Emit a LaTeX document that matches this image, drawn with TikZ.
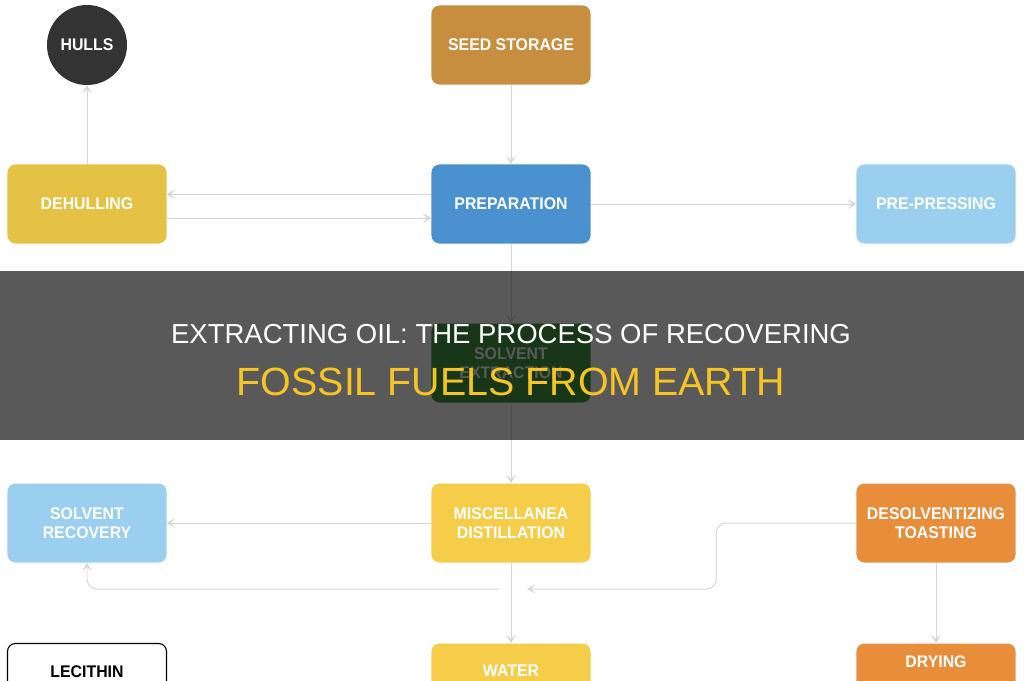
\documentclass[tikz,border=0pt]{standalone}
\usepackage{fontspec}
\setmainfont{Liberation Sans}
\newfontfamily\boxfont[FakeStretch=0.94]{Liberation Sans}
\usetikzlibrary{arrows.meta}
\definecolor{SeedBrown}{RGB}{199, 142, 64}
\definecolor{DehullGold}{RGB}{229, 193, 68}
\definecolor{PrepBlue}{RGB}{74, 145, 208}
\definecolor{SkyBlue}{RGB}{155, 207, 240}
\definecolor{ExtractGreen}{RGB}{70, 160, 70}
\definecolor{MiscYellow}{RGB}{245, 205, 72}
\definecolor{ToastOrange}{RGB}{232, 141, 58}
\definecolor{HullGray}{RGB}{51, 51, 51}
\definecolor{LinkGray}{RGB}{214, 214, 214}
\definecolor{TitleYellow}{RGB}{247, 197, 35}

\begin{document}
\begin{tikzpicture}[x=0.025cm, y=-0.025cm,
  every node/.style={font=\boxfont\bfseries\fontsize{12}{13.5}\selectfont, align=center, text=white},
  stage/.style={rounded corners=0.2cm, minimum width=3.975cm, minimum height=1.975cm, fill=#1},
  link/.style={draw=LinkGray, line width=0.7pt, -{Stealth[length=6pt, width=7pt, inset=3pt]}}]
\useasboundingbox (0,0) rectangle (1024,680);

% process steps
\node[circle, fill=HullGray, minimum size=2cm, inner sep=0pt] (hulls) at (87,45) {HULLS};
\node[stage=SeedBrown] (seed) at (511,45) {SEED STORAGE};
\node[stage=DehullGold] (dehull) at (87,204) {DEHULLING};
\node[stage=PrepBlue] (prep) at (511,204) {PREPARATION};
\node[stage=SkyBlue] (prepress) at (936,204) {PRE-PRESSING};
\node[stage=ExtractGreen] (extract) at (511,363) {SOLVENT\\EXTRACTION};
\node[stage=SkyBlue] (recover) at (87,523) {SOLVENT\\RECOVERY};
\node[stage=MiscYellow] (distill) at (511,523) {MISCELLANEA\\DISTILLATION};
\node[stage=ToastOrange] (toast) at (936,523) {DESOLVENTIZING\\TOASTING};
\node[stage=white, draw=black, line width=0.8pt, text=black, text depth=16pt] (lecithin) at (87,683) {LECITHIN};
\node[stage=MiscYellow, text depth=17pt] (water) at (511,683) {WATER};
\node[stage=ToastOrange, text depth=31pt] (drying) at (936,683) {DRYING};

% flows
\draw[link] (seed) -- (prep);
\draw[link] ([yshift=7pt]prep.west) -- ([yshift=7pt]dehull.east);
\draw[link] ([yshift=-10pt]dehull.east) -- ([yshift=-10pt]prep.west);
\draw[link] (dehull) -- (hulls);
\draw[link] (prep) -- (prepress);
\draw[link] (prep) -- (extract);
\draw[link] (extract) -- (distill);
\draw[link] (distill) -- (recover);
\draw[link] (distill) -- (water);
\draw[link] (toast) -- (drying);
\coordinate (fork) at (499,589);
\coordinate (merge) at (527,589);
\draw[link, rounded corners=0.25cm] (fork) -| (recover.south);
\draw[link, rounded corners=0.25cm] (toast.west) -- ++(-140,0) |- (merge);

% title banner
\fill[black, opacity=0.65] (0,271) rectangle (1024,440);
\node[font=\fontsize{19.55}{23}\selectfont] (title) at (511,334) {EXTRACTING OIL: THE PROCESS OF RECOVERING};
\node[font=\fontsize{28}{33}\selectfont, text=TitleYellow] (subtitle) at (511,382) {FOSSIL FUELS FROM EARTH};
\end{tikzpicture}
\end{document}
